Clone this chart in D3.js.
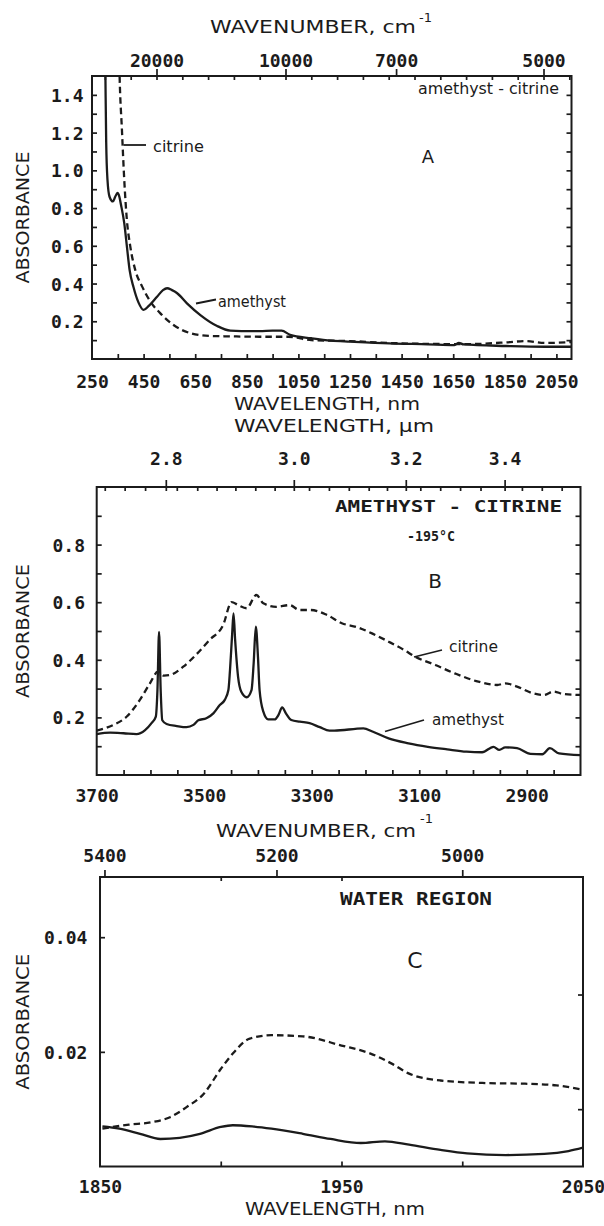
<!DOCTYPE html>
<html>
<head>
<meta charset="utf-8">
<script src="https://cdn.jsdelivr.net/npm/d3@7"></script>
<style>
  body { margin: 0; background: #fff; }
  svg { display: block; }
</style>
</head>
<body>
<svg id="fig" width="604" height="1226"></svg>
<script>
// ---------- Panel A: amethyst vs citrine, 250–2100 nm ----------
const aAmethystNm  = [298,302,305,310,318,331,340,349,356,362,375,385,396,411,430,450,469,502,525,541,560,579,618,670,735,786,829,900,950,985,1018,1100,1177,1251,1402,1553,1655,1672,1690,1855,2006,2108];
const aAmethystAbs = [2.0,1.5,1.15,0.95,0.86,0.835,0.86,0.88,0.86,0.82,0.72,0.6,0.47,0.38,0.3,0.26,0.28,0.33,0.365,0.375,0.365,0.35,0.295,0.233,0.175,0.15,0.148,0.148,0.15,0.15,0.128,0.11,0.097,0.092,0.083,0.078,0.074,0.086,0.077,0.069,0.065,0.065];
const aCitrineNm   = [350,357,366,375,385,398,418,444,476,515,566,631,708,786,900,1011,1100,1251,1402,1553,1705,1855,1930,2006,2108];
const aCitrineAbs  = [2.0,1.5,1.215,0.95,0.74,0.6,0.47,0.385,0.305,0.242,0.18,0.137,0.122,0.12,0.118,0.118,0.1,0.095,0.085,0.08,0.079,0.088,0.095,0.085,0.09];
const aBottomLabels = [250,450,650,850,1050,1250,1450,1650,1850,2050];
const aBottomMinor  = d3.range(350, 2051, 100);
const aTopLabels    = [20000,10000,7000,5000];          // cm-1
const aTopMinorNm   = d3.range(300, 2101, 100);
const aYLabels      = [0.2,0.4,0.6,0.8,1.0,1.2,1.4];
const aYMinor       = d3.range(1, 15).map(i => i / 10);

// ---------- Panel B: O–H region at -195 °C ----------
const bAmethystWn  = [3700,3675,3650,3626,3610,3598,3590,3587,3584,3581,3578,3570,3551,3533,3520,3511,3496,3483,3471,3462,3455,3452,3448,3445.5,3442.5,3437,3431,3421,3412,3408,3404,3400,3397,3390,3381,3369,3362,3355,3348,3338,3322,3304,3285,3267,3258,3204,3186,3157,3120,3084,3048,3012,2983,2962,2951,2940,2918,2893,2871,2857,2840,2800];
const bAmethystAbs = [0.142,0.147,0.145,0.142,0.156,0.18,0.203,0.295,0.497,0.295,0.19,0.177,0.17,0.166,0.174,0.19,0.197,0.214,0.243,0.26,0.295,0.365,0.49,0.561,0.47,0.341,0.289,0.27,0.295,0.388,0.515,0.41,0.295,0.22,0.193,0.193,0.208,0.235,0.214,0.191,0.185,0.18,0.166,0.154,0.154,0.162,0.15,0.127,0.11,0.098,0.089,0.081,0.079,0.098,0.087,0.096,0.093,0.073,0.072,0.093,0.075,0.069];
const bCitrineWn   = [3700,3669,3644,3620,3601,3586,3575,3564,3539,3514,3490,3465,3449,3437,3421,3403,3390,3366,3341,3323,3302,3272,3244,3215,3186,3157,3128,3108,3070,3034,2990,2955,2940,2918,2889,2868,2850,2832,2800];
const bCitrineAbs  = [0.154,0.174,0.203,0.26,0.318,0.359,0.345,0.347,0.376,0.42,0.469,0.52,0.60,0.59,0.579,0.625,0.596,0.584,0.59,0.573,0.573,0.556,0.527,0.513,0.49,0.463,0.434,0.411,0.382,0.353,0.324,0.3125,0.318,0.307,0.284,0.278,0.29,0.281,0.278];
const bBottomLabels = [3700,3500,3300,3100,2900];
const bBottomMinor  = d3.range(3650, 2849, -50);
const bTopLabels    = [2.8,3.0,3.2,3.4];                 // micrometres
const bTopMinorWn   = [3685,3648,3610,3551,3513,3477,3442,3405,3369,3305,3268,3231,3194,3160,3098,3061,3024,2986,2909,2872,2835];
const bYLabels      = [0.2,0.4,0.6,0.8];
const bYMinor       = d3.range(1, 10).map(i => i / 10);

// ---------- Panel C: water region ----------
const cAmethystNm  = [1851,1858,1866.6,1875,1883,1891.4,1900,1905,1913,1921,1934,1945.5,1958,1968,1978,1991,2002,2018,2034,2044,2050];
const cAmethystAbs = [0.0070,0.0066,0.0057,0.0048,0.0050,0.0057,0.0069,0.0072,0.0070,0.0066,0.0057,0.0048,0.0041,0.0044,0.0038,0.0029,0.0023,0.0020,0.0022,0.0027,0.0033];
const cCitrineNm   = [1851,1862,1871,1879,1886,1893,1900,1905,1912,1921,1934,1950,1962,1971,1978,1991,2010,2026,2039,2050];
const cCitrineAbs  = [0.0066,0.0073,0.0077,0.0086,0.0104,0.0127,0.0170,0.0197,0.0223,0.0229,0.0227,0.0211,0.0197,0.0179,0.0162,0.0150,0.01455,0.01444,0.01415,0.0134];
const cBottomLabels = [1850,1950,2050];
const cBottomMinor  = [1900,1950,2000];
const cTopLabels    = [5400,5200,5000];                  // cm-1
const cTopMinorNm   = [1900,1950];
const cYLabels      = [0.02,0.04];
const cYRightTicks  = [0.01,0.03];

// ---------- drawing ----------
const INK  = "#1b1b1b";
const MONO = "'DejaVu Sans Mono', monospace";
const SANS = "'DejaVu Sans', sans-serif";
const svg  = d3.select("#fig");

const zip = (xs, ys) => xs.map((x, i) => ({ x, y: ys[i] }));

function ticks(g, axis) {
  g.call(axis.tickFormat(""));
  g.select(".domain").remove();
  g.selectAll(".tick line").attr("stroke", INK).attr("stroke-width", 1.7);
}

function labels(g, axis, fmt, size = 18) {
  g.call(axis.tickSize(0).tickFormat(fmt));
  g.select(".domain").remove();
  g.attr("font-family", MONO).attr("font-weight", "bold").attr("font-size", size);
  g.selectAll(".tick text").attr("fill", INK);
  return g.selectAll(".tick text");
}

function frame(g, x, y, id) {
  const [x0, x1] = d3.extent(x.range());
  const [y0, y1] = d3.extent(y.range());
  g.append("clipPath").attr("id", id)
    .append("rect").attr("x", x0).attr("y", y0).attr("width", x1 - x0).attr("height", y1 - y0);
  g.append("rect")
    .attr("x", x0).attr("y", y0).attr("width", x1 - x0).attr("height", y1 - y0)
    .attr("fill", "none").attr("stroke", INK).attr("stroke-width", 2);
  return { x0, x1, y0, y1 };
}

function curve(g, x, y, pts, dashed, clipId) {
  const line = d3.line().x(d => x(d.x)).y(d => y(d.y)).curve(d3.curveMonotoneX);
  g.append("path")
    .attr("clip-path", `url(#${clipId})`)
    .attr("d", line(x(pts[0].x) > x(pts[pts.length - 1].x) ? pts.slice().reverse() : pts))
    .attr("fill", "none").attr("stroke", INK)
    .attr("stroke-width", 2.3)
    .attr("stroke-linejoin", "round")
    .attr("stroke-dasharray", dashed ? "6.5,4" : null);
}

function text(g, str, x, y, opts = {}) {
  const t = g.append("text")
    .attr("x", x).attr("y", y).attr("fill", INK)
    .attr("font-family", opts.family || SANS)
    .attr("font-size", opts.size || 17)
    .attr("font-weight", opts.weight || "normal")
    .attr("text-anchor", opts.anchor || "start")
    .text(str);
  if (opts.len) t.attr("textLength", opts.len).attr("lengthAdjust", "spacingAndGlyphs");
  if (opts.rotate) t.attr("transform", `rotate(-90,${x},${y})`);
  return t;
}

function leader(g, x1, y1, x2, y2) {
  g.append("line").attr("x1", x1).attr("y1", y1).attr("x2", x2).attr("y2", y2)
    .attr("stroke", INK).attr("stroke-width", 1.8);
}

function yAxes(g, y, f, minor, majorLabels, fmt, gap, rightTicks) {
  ticks(g.append("g").attr("transform", `translate(${f.x0},0)`), d3.axisLeft(y).tickValues(minor).tickSize(-5));
  ticks(g.append("g").attr("transform", `translate(${f.x1},0)`), d3.axisRight(y).tickValues(rightTicks || minor).tickSize(-5));
  labels(g.append("g").attr("transform", `translate(${f.x0},0)`), d3.axisLeft(y).tickValues(majorLabels), fmt)
    .attr("x", -gap).attr("dy", "0.36em");
}

// ===== Panel A =====
{
  const g = svg.append("g");
  const x = d3.scaleLinear().domain([250, 2108.5]).range([92, 571.5]);
  const y = d3.scaleLinear().domain([0, 1.5]).range([359, 76]);
  const f = frame(g, x, y, "clipA");

  ticks(g.append("g").attr("transform", `translate(0,${f.y1})`), d3.axisBottom(x).tickValues(aBottomMinor).tickSize(-5));
  labels(g.append("g").attr("transform", `translate(0,${f.y1})`), d3.axisBottom(x).tickValues(aBottomLabels), d3.format("d"))
    .attr("y", 29).attr("dy", null);

  ticks(g.append("g").attr("transform", `translate(0,${f.y0})`), d3.axisTop(x).tickValues(aTopMinorNm).tickSize(-4));
  const wnA = aTopLabels.map(w => 1e7 / w);
  ticks(g.append("g").attr("transform", `translate(0,${f.y0})`), d3.axisTop(x).tickValues(wnA).tickSize(7));
  labels(g.append("g").attr("transform", `translate(0,${f.y0})`), d3.axisTop(x).tickValues(wnA), d => Math.round(1e7 / d))
    .attr("y", -9).attr("dy", null);

  yAxes(g, y, f, aYMinor, aYLabels, d3.format(".1f"), 8.5);

  curve(g, x, y, zip(aCitrineNm, aCitrineAbs), true, "clipA");
  curve(g, x, y, zip(aAmethystNm, aAmethystAbs), false, "clipA");

  text(g, "WAVENUMBER, cm", 210, 33, { len: 206 });
  text(g, "-1", 419, 22, { size: 13 });
  text(g, "WAVELENGTH, nm", 234, 410, { len: 186 });
  text(g, "ABSORBANCE", 29, (f.y0 + f.y1) / 2, { rotate: true, anchor: "middle", len: 132 });

  text(g, "amethyst - citrine", 418, 94, { size: 15, len: 141 });
  text(g, "citrine", 153, 151.5, { size: 15, len: 51 });
  leader(g, 123.5, 145, 146, 145);
  text(g, "amethyst", 218, 306.5, { size: 15, len: 68 });
  leader(g, 196, 303.5, 216, 299.5);
  text(g, "A", 428, 163, { size: 18, anchor: "middle" });
}

// ===== Panel B =====
{
  const g = svg.append("g");
  const x = d3.scaleLinear().domain([3700, 2800]).range([96.7, 580.5]);
  const y = d3.scaleLinear().domain([0, 1.0]).range([775, 487]);
  const f = frame(g, x, y, "clipB");

  ticks(g.append("g").attr("transform", `translate(0,${f.y1})`), d3.axisBottom(x).tickValues(bBottomMinor).tickSize(-5));
  labels(g.append("g").attr("transform", `translate(0,${f.y1})`), d3.axisBottom(x).tickValues(bBottomLabels), d3.format("d"))
    .attr("y", 26.5).attr("dy", null);

  const umB = bTopLabels.map(u => 1e4 / u);
  ticks(g.append("g").attr("transform", `translate(0,${f.y0})`), d3.axisTop(x).tickValues(bTopMinorWn).tickSize(-4));
  ticks(g.append("g").attr("transform", `translate(0,${f.y0})`), d3.axisTop(x).tickValues(umB).tickSize(7));
  ticks(g.append("g").attr("transform", `translate(0,${f.y0})`), d3.axisTop(x).tickValues(umB).tickSize(-4));
  labels(g.append("g").attr("transform", `translate(0,${f.y0})`), d3.axisTop(x).tickValues(umB), d => (1e4 / d).toFixed(1))
    .attr("y", -22).attr("dy", null);

  yAxes(g, y, f, bYMinor, bYLabels, d3.format(".1f"), 11.7);

  curve(g, x, y, zip(bCitrineWn, bCitrineAbs), true, "clipB");
  curve(g, x, y, zip(bAmethystWn, bAmethystAbs), false, "clipB");

  text(g, "WAVELENGTH, \u03bcm", 234, 432, { len: 200 });
  text(g, "WAVENUMBER, cm", 216, 836.5, { len: 200 });
  text(g, "-1", 420, 823, { size: 13 });
  text(g, "ABSORBANCE", 29, (f.y0 + f.y1) / 2, { rotate: true, anchor: "middle", len: 134 });

  text(g, "AMETHYST - CITRINE", 335, 512, { family: MONO, weight: "bold", size: 15, len: 227 });
  text(g, "-195\u00b0C", 407, 541, { family: MONO, weight: "bold", size: 14, len: 48 });
  text(g, "B", 435, 588, { size: 20, anchor: "middle" });
  text(g, "citrine", 449, 651.5, { size: 15, len: 49 });
  leader(g, 414, 657, 442, 650);
  text(g, "amethyst", 432, 725, { size: 15, len: 72 });
  leader(g, 385, 731.5, 424, 720);
}

// ===== Panel C =====
{
  const g = svg.append("g");
  const x = d3.scaleLinear().domain([1850, 2050]).range([100, 583]);
  const y = d3.scaleLinear().domain([0, 0.0505]).range([1166.5, 877]);
  const f = frame(g, x, y, "clipC");

  ticks(g.append("g").attr("transform", `translate(0,${f.y1})`), d3.axisBottom(x).tickValues(cBottomMinor).tickSize(-5));
  labels(g.append("g").attr("transform", `translate(0,${f.y1})`), d3.axisBottom(x).tickValues(cBottomLabels), d3.format("d"))
    .attr("y", 26.5).attr("dy", null);

  const wnC = cTopLabels.map(w => 1e7 / w);
  ticks(g.append("g").attr("transform", `translate(0,${f.y0})`), d3.axisTop(x).tickValues(cTopMinorNm).tickSize(-4));
  ticks(g.append("g").attr("transform", `translate(0,${f.y0})`), d3.axisTop(x).tickValues(wnC).tickSize(7));
  labels(g.append("g").attr("transform", `translate(0,${f.y0})`), d3.axisTop(x).tickValues(wnC), d => Math.round(1e7 / d))
    .attr("y", -15).attr("dy", null);

  yAxes(g, y, f, cYLabels, cYLabels, d3.format(".2f"), 12.7, cYRightTicks);

  curve(g, x, y, zip(cCitrineNm, cCitrineAbs), true, "clipC");
  curve(g, x, y, zip(cAmethystNm, cAmethystAbs), false, "clipC");

  text(g, "WAVELENGTH, nm", 245, 1215, { len: 180 });
  text(g, "ABSORBANCE", 29, (f.y0 + f.y1) / 2, { rotate: true, anchor: "middle", len: 136 });

  text(g, "WATER REGION", 340, 905, { family: MONO, weight: "bold", size: 17, len: 152 });
  text(g, "C", 415, 968, { size: 22, anchor: "middle" });
}
</script>
</body>
</html>
